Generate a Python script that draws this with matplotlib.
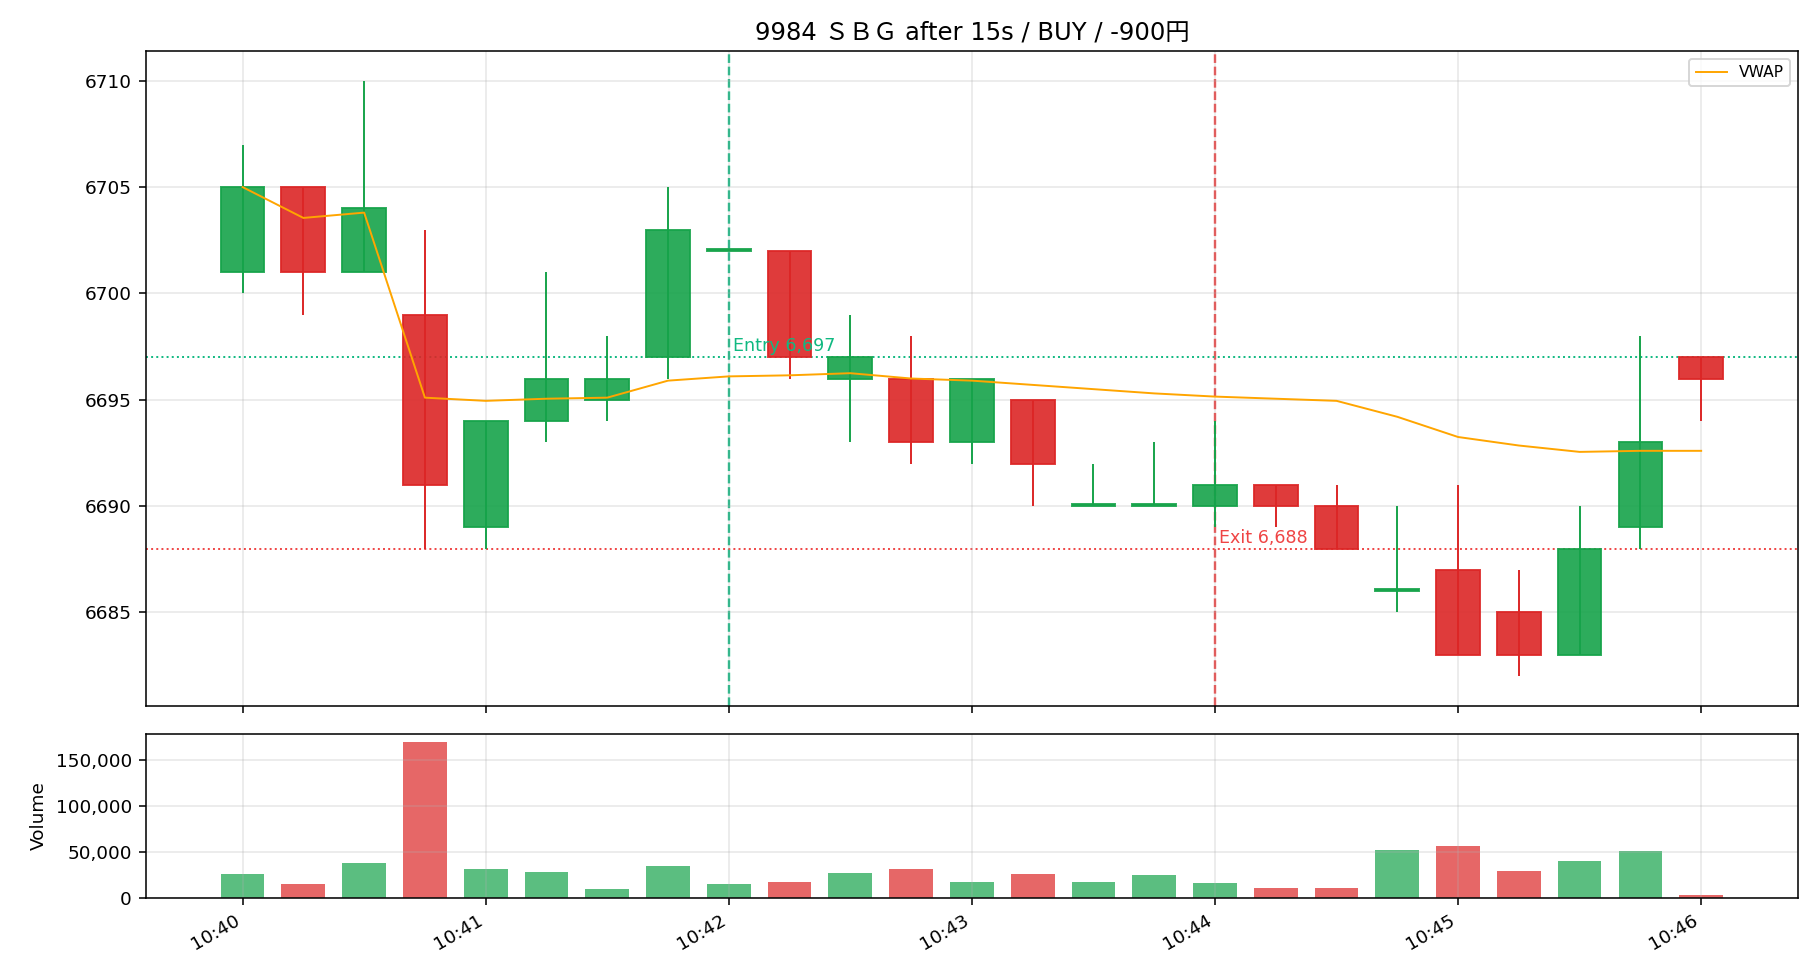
import datetime as dt
import matplotlib
matplotlib.use("Agg")
import matplotlib.pyplot as plt
import matplotlib.dates as mdates
from matplotlib.ticker import FuncFormatter

plt.rcParams['font.family'] = ['DejaVu Sans', 'Noto Sans CJK JP']

# 15秒足 (10:40:00 - 10:46:00)
start = dt.datetime(2024, 1, 1, 10, 40, 0)
times = [start + dt.timedelta(seconds=15 * i) for i in range(25)]

opens  = [6701, 6705, 6701, 6699, 6689, 6694, 6695, 6697, 6702, 6702, 6696, 6696, 6693,
          6695, 6690, 6690, 6690, 6691, 6690, 6686, 6687, 6685, 6683, 6689, 6697]
highs  = [6707, 6705, 6710, 6703, 6694, 6701, 6698, 6705, 6702, 6702, 6699, 6698, 6696,
          6695, 6692, 6693, 6694, 6691, 6691, 6690, 6691, 6687, 6690, 6698, 6697]
lows   = [6700, 6699, 6701, 6688, 6688, 6693, 6694, 6696, 6702, 6696, 6693, 6692, 6692,
          6690, 6690, 6690, 6689, 6689, 6688, 6685, 6683, 6682, 6683, 6688, 6694]
closes = [6705, 6701, 6704, 6691, 6694, 6696, 6696, 6703, 6702, 6697, 6697, 6693, 6696,
          6692, 6690, 6690, 6691, 6690, 6688, 6686, 6683, 6683, 6688, 6693, 6696]
volumes = [25300, 14400, 38200, 169500, 31700, 27400, 9000, 33900, 14400, 16600, 26300,
           31700, 16600, 25300, 16600, 24200, 15500, 10100, 10100, 52300, 56600, 28500,
           40400, 51200, 2500]
vwap = [6705.0, 6703.55, 6703.8, 6695.1, 6694.95, 6695.05, 6695.1, 6695.9, 6696.1,
        6696.15, 6696.25, 6696.0, 6695.9, 6695.7, 6695.5, 6695.3, 6695.15, 6695.05,
        6694.95, 6694.2, 6693.25, 6692.85, 6692.55, 6692.6, 6692.6]

entry_time = dt.datetime(2024, 1, 1, 10, 42, 0)
exit_time = dt.datetime(2024, 1, 1, 10, 44, 0)
entry_price = 6697
exit_price = 6688

UP = '#16a34a'
DOWN = '#dc2626'
ENTRY_C = '#10b981'
EXIT_C = '#ef4444'

fig, (ax, axv) = plt.subplots(2, 1, figsize=(13, 7), dpi=140, sharex=True,
                              gridspec_kw={'height_ratios': [4, 1]})

w = 10.8 / 86400  # 足幅(日単位)
for t, o, h, l, c in zip(times, opens, highs, lows, closes):
    col = UP if c >= o else DOWN
    ax.vlines(t, l, h, color=col, lw=1.0, zorder=2)
    body = max(abs(c - o), 0.1)
    ax.bar(t, body, bottom=min(o, c), width=w, color=col, edgecolor=col,
           alpha=0.9, lw=1, zorder=3)

ax.plot(times, vwap, color='orange', lw=1.0, label='VWAP', zorder=4)

ax.axvline(entry_time, color=ENTRY_C, ls='--', lw=1.2, zorder=1)
ax.axvline(exit_time, color=EXIT_C, ls='--', lw=1.2, zorder=1)
ax.axhline(entry_price, color=ENTRY_C, ls=':', lw=1.0, zorder=1)
ax.axhline(exit_price, color=EXIT_C, ls=':', lw=1.0, zorder=1)
ax.annotate(f'Entry {entry_price:,}', (entry_time, entry_price), xytext=(2, 1),
            textcoords='offset points', color=ENTRY_C, fontsize=9, va='bottom')
ax.annotate(f'Exit {exit_price:,}', (exit_time, exit_price), xytext=(2, 1),
            textcoords='offset points', color=EXIT_C, fontsize=9, va='bottom')

ax.set_title('9984 ＳＢＧ after 15s / BUY / -900円', fontsize=12.5)
ax.legend(loc='upper right', fontsize=8)
ax.grid(True, alpha=0.3)
ax.tick_params(labelsize=9.5)

vcols = [UP if c >= o else DOWN for o, c in zip(opens, closes)]
axv.bar(times, volumes, width=w, color=vcols, alpha=0.7)
axv.set_ylabel('Volume', fontsize=9.5)
axv.grid(True, alpha=0.3)
axv.tick_params(labelsize=9.5)
axv.yaxis.set_major_formatter(FuncFormatter(lambda v, p: f'{int(v):,}'))
axv.xaxis.set_major_locator(mdates.MinuteLocator())
axv.xaxis.set_major_formatter(mdates.DateFormatter('%H:%M'))
fig.autofmt_xdate()
fig.subplots_adjust(left=0.080, right=0.988, top=0.948, bottom=0.084, hspace=0.068)

plt.savefig('out.png')
